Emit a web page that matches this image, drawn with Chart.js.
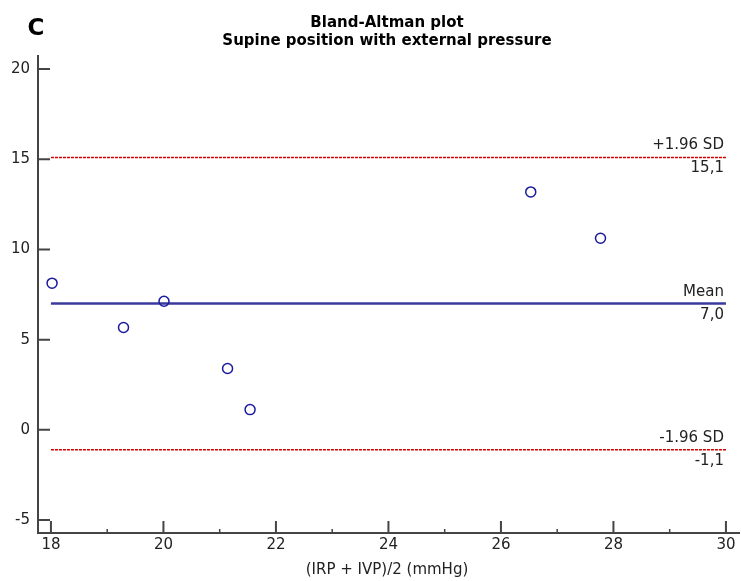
<!DOCTYPE html>
<html>
<head>
<meta charset="utf-8">
<script src="https://cdn.jsdelivr.net/npm/chart.js@4.4.1/dist/chart.umd.min.js"></script>
<style>
  html, body { margin: 0; padding: 0; background: #fff; }
  #wrap { width: 741px; height: 581px; position: relative; }
</style>
</head>
<body>
<div id="wrap"><canvas id="myChart"></canvas></div>
<script>
// averages (IRP + IVP)/2 and differences for each subject
const avgVals = [18.02, 19.29, 20.01, 21.14, 21.54, 26.53, 27.77];
const diffVals = [8.13, 5.67, 7.13, 3.40, 1.12, 13.19, 10.62];

// limits of agreement
const meanDiff = 7.0;
const upperLoA = 15.1;
const lowerLoA = -1.1;

const xTicks = [18, 20, 22, 24, 26, 28, 30];
const xMinorTicks = [19, 21, 23, 25, 27, 29];
const yTicks = [-5, 0, 5, 10, 15, 20];

const FONT = '"DejaVu Sans", Verdana, sans-serif';
const AXIS_COLOR = '#444';

function fmt(v) {
    return v.toFixed(1).replace('.', ',');
}

function hLine(y) {
    return [{ x: xTicks[0], y: y }, { x: xTicks[xTicks.length - 1], y: y }];
}

const points = avgVals.map((x, i) => ({ x: x, y: diffVals[i] }));

const extras = {
    id: 'extras',
    afterDraw(chart) {
        const c = chart.ctx;
        const xs = chart.scales.x, ys = chart.scales.y;
        const area = chart.chartArea;
        c.save();

        // axis lines
        c.strokeStyle = AXIS_COLOR;
        c.lineWidth = 2;
        c.beginPath();
        c.moveTo(area.left, area.top);
        c.lineTo(area.left, area.bottom);
        c.lineTo(area.right, area.bottom);
        c.stroke();

        // tick marks point inwards
        c.beginPath();
        yTicks.forEach(v => {
            const y = ys.getPixelForValue(v);
            c.moveTo(area.left, y);
            c.lineTo(area.left + 12, y);
        });
        xTicks.forEach(v => {
            const x = xs.getPixelForValue(v);
            c.moveTo(x, area.bottom);
            c.lineTo(x, area.bottom - 12);
        });
        c.stroke();
        c.lineWidth = 1.5;
        c.beginPath();
        xMinorTicks.forEach(v => {
            const x = xs.getPixelForValue(v);
            c.moveTo(x, area.bottom);
            c.lineTo(x, area.bottom - 4);
        });
        c.stroke();

        // line labels
        c.fillStyle = '#222';
        c.font = '15px ' + FONT;
        c.textAlign = 'right';
        c.textBaseline = 'alphabetic';
        const lx = xs.getPixelForValue(30) - 2;
        [['+1.96 SD', upperLoA], ['Mean', meanDiff], ['-1.96 SD', lowerLoA]].forEach(([name, v]) => {
            const y = ys.getPixelForValue(v);
            c.fillText(name, lx, y - 8);
            c.fillText(fmt(v), lx, y + 15);
        });

        // titles
        c.fillStyle = '#000';
        c.textAlign = 'center';
        c.font = 'bold 15px ' + FONT;
        c.fillText('Bland-Altman plot', 387, 27);
        c.fillText('Supine position with external pressure', 387, 45);
        c.font = 'bold 23px ' + FONT;
        c.fillText('C', 36, 35);

        c.fillStyle = '#222';
        c.font = '15px ' + FONT;
        c.textBaseline = 'middle';
        c.fillText('(IRP + IVP)/2 (mmHg)', 387, 570);
        c.restore();
    }
};

const ctx = document.getElementById('myChart');
new Chart(ctx, {
    type: 'scatter',
    data: {
        datasets: [
            {
                label: 'Differences',
                data: points,
                pointStyle: 'circle',
                pointRadius: 5,
                pointHoverRadius: 5,
                borderWidth: 1.5,
                borderColor: '#1a1a9c',
                backgroundColor: 'rgba(0,0,0,0)'
            },
            {
                label: 'Mean',
                data: hLine(meanDiff),
                showLine: true,
                pointRadius: 0,
                borderColor: '#3a3a9e',
                borderWidth: 2.5
            },
            {
                label: '+1.96 SD',
                data: hLine(upperLoA),
                showLine: true,
                pointRadius: 0,
                borderColor: '#d00000',
                borderWidth: 1.5,
                borderDash: [3, 1]
            },
            {
                label: '-1.96 SD',
                data: hLine(lowerLoA),
                showLine: true,
                pointRadius: 0,
                borderColor: '#d00000',
                borderWidth: 1.5,
                borderDash: [3, 1]
            }
        ]
    },
    options: {
        responsive: true,
        maintainAspectRatio: false,
        animation: false,
        layout: { autoPadding: false, padding: { top: 55, right: 1, left: 0, bottom: 0 } },
        plugins: {
            legend: { display: false },
            tooltip: { enabled: false }
        },
        scales: {
            x: {
                type: 'linear',
                min: 17.77,
                max: 30.25,
                grid: { display: false, drawTicks: false },
                border: { display: false },
                afterBuildTicks: (s) => { s.ticks = xTicks.map(v => ({ value: v })); },
                afterFit: (s) => { s.height = 48; s.paddingLeft = 0; s.paddingRight = 0; },
                ticks: {
                    padding: 3,
                    color: '#222',
                    font: { family: FONT, size: 15 },
                    maxRotation: 0,
                    autoSkip: false
                }
            },
            y: {
                type: 'linear',
                min: -5.72,
                max: 20.78,
                grid: { display: false, drawTicks: false },
                border: { display: false },
                afterBuildTicks: (s) => { s.ticks = yTicks.map(v => ({ value: v })); },
                afterFit: (s) => { s.width = 38; s.paddingTop = 0; s.paddingBottom = 0; },
                ticks: {
                    padding: 8,
                    color: '#222',
                    font: { family: FONT, size: 15 },
                    autoSkip: false
                }
            }
        }
    },
    plugins: [extras]
});
</script>
</body>
</html>
